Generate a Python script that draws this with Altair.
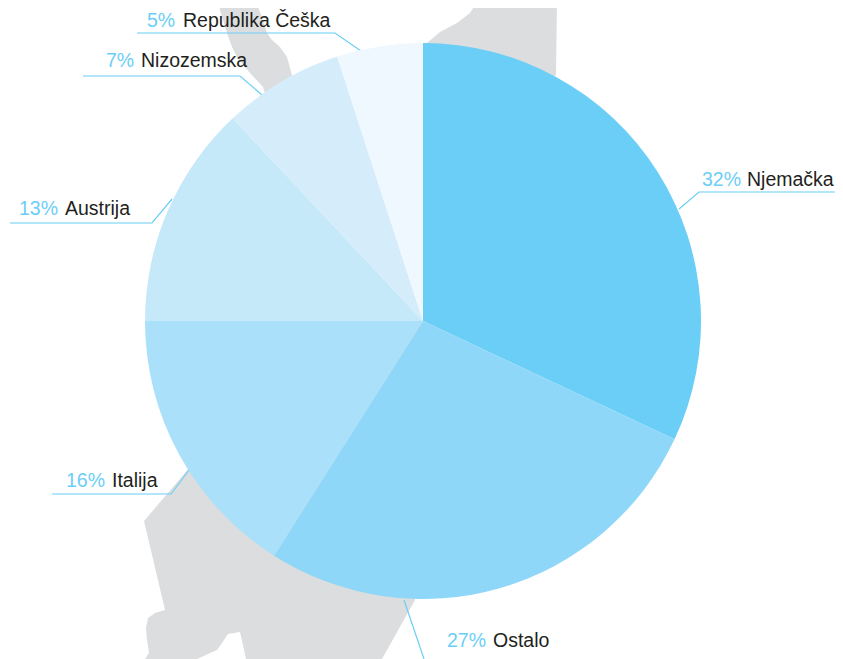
import altair as alt
import pandas as pd

W, H = 827, 651
names = ["Njemačka", "Ostalo", "Italija", "Austrija", "Nizozemska", "Republika Češka"]
shares = [32, 27, 16, 13, 7, 5]
colors = ["#6BCEF7", "#8FD7F8", "#ABE0FB", "#C6E9FA", "#D5EDFB", "#EEF8FE"]
pct_x = [702, 447, 66, 19, 106, 147]
name_x = [747, 493, 112, 65, 141, 183]
label_y = [186, 647, 487, 215, 67, 27]
leaders = [
    [(841, 192), (699, 192), (679, 209)],
    [(404, 600), (424, 659)],
    [(52, 494), (171, 494), (189, 470)],
    [(10, 223), (152, 223), (172, 199)],
    [(83, 76), (240, 76), (262, 95)],
    [(137, 33), (335, 33), (361, 51)],
]
# silhouette outlines, in picture pixels
strand_x = [217, 223, 227, 232, 237, 250, 263, 300, 292, 287, 280, 272, 267, 260, 255]
strand_y = [0, 20, 33, 47, 57, 73, 87, 200, 75, 57, 47, 40, 33, 12, 0]
upper_x = [475, 557, 556, 423, 423, 427, 440, 457, 470, 475]
upper_y = [0, 0, 75, 200, 43, 43, 32, 23, 13, 5]
lower_x = [190, 144, 165, 155, 148, 146, 147, 149, 145, 197, 217, 222, 228, 240, 243, 246, 382, 415, 423]
lower_y = [467, 521, 610, 613, 618, 628, 640, 653, 659, 659, 650, 643, 634, 632, 645, 659, 659, 600, 321]

xs = alt.Scale(domain=[8, 8 + W], range=[0, W])
ys = alt.Scale(domain=[8, 8 + H], range=[0, H])

slices = pd.DataFrame({"name": names, "share": shares, "ord": range(len(names))})
labels = pd.DataFrame({"name": names, "pct": [f"{s}%" for s in shares],
                       "px": pct_x, "nx": name_x, "y": label_y})
lead = pd.DataFrame([{"k": i, "o": j, "x": p[0], "y": p[1]}
                     for i, l in enumerate(leaders) for j, p in enumerate(l)])


def poly(px, py):
    r = [[a, b] for a, b in zip(px, py)]
    return {"type": "Feature", "properties": {},
            "geometry": {"type": "Polygon", "coordinates": [r + [r[0]]]}}


shape = alt.Chart(alt.Data(values=[poly(strand_x, strand_y), poly(upper_x, upper_y), poly(lower_x, lower_y)],
                           format=alt.DataFormat(type="json"))).mark_geoshape(
    fill="#DCDDDE", stroke=None, clip=False
).project(type="identity", scale=1, translate=[-8, -8])

pie = alt.Chart(slices).mark_arc(radius=278, stroke=None).encode(
    x=alt.value(423 - 8), y=alt.value(321 - 8),
    theta=alt.Theta("share:Q", stack=True, scale=alt.Scale(domain=[0, 100], range=[0, 6.283185307])),
    order=alt.Order("ord:Q"),
    color=alt.Color("name:N", scale=alt.Scale(domain=names, range=colors), legend=None),
)

lines = alt.Chart(lead).mark_line(color="#6BCEF7", strokeWidth=1.2).encode(
    x=alt.X("x:Q", scale=xs, axis=None),
    y=alt.Y("y:Q", scale=ys, axis=None),
    detail="k:N", order="o:Q",
)
t_pct = alt.Chart(labels).mark_text(align="left", baseline="alphabetic", font="Liberation Sans", fontSize=19.5,
                                    color="#6BCEF7").encode(
    x=alt.X("px:Q", scale=xs, axis=None), y=alt.Y("y:Q", scale=ys, axis=None), text="pct:N")
t_name = alt.Chart(labels).mark_text(align="left", baseline="alphabetic", font="Liberation Sans", fontSize=19.5,
                                     color="#231F20").encode(
    x=alt.X("nx:Q", scale=xs, axis=None), y=alt.Y("y:Q", scale=ys, axis=None), text="name:N")

chart = alt.layer(shape, lines, pie, t_pct, t_name).resolve_scale(
    x="shared", y="shared", color="independent", theta="independent"
).properties(
    width=W, height=H, padding=0, autosize=alt.AutoSizeParams(type="none")
).configure_view(stroke=None)
chart.save("out.html", embed_options={"renderer": "svg", "actions": False})
